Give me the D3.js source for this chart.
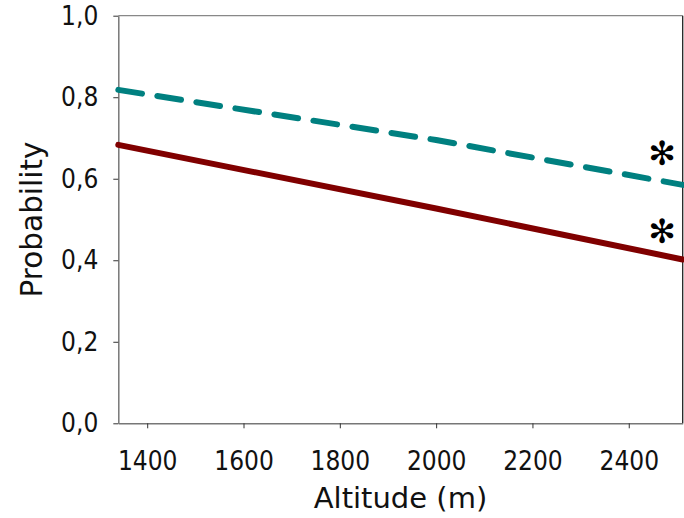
<!DOCTYPE html>
<html>
<head>
<meta charset="utf-8">
<script src="https://cdn.jsdelivr.net/npm/d3@7"></script>
<style>
  html, body { margin: 0; padding: 0; background: #fff; }
  svg { display: block; }
</style>
</head>
<body>
<div id="chart"></div>
<script>
// data
const altitudes = [1340, 2000, 2512];
const dashedSeries = [0.818, 0.695, 0.585];
const solidSeries = [0.683, 0.527, 0.402];
const xTicks = [1400, 1600, 1800, 2000, 2200, 2400];
const yTicks = [0, 0.2, 0.4, 0.6, 0.8, 1.0];
const markers = [
  { altitude: 2469, value: 0.662 },
  { altitude: 2469, value: 0.472 }
];

const width = 684;
const height = 518;
const margin = { top: 15.7, right: 1.3, bottom: 94.7, left: 118.3 };

const svg = d3.select('#chart')
  .append('svg')
  .attr('width', width)
  .attr('height', height);

const x = d3.scaleLinear()
  .domain([1340, 2512])
  .range([margin.left, width - margin.right]);

const y = d3.scaleLinear()
  .domain([0, 1])
  .range([height - margin.bottom, margin.top]);

const fmt = d => d.toFixed(1).replace('.', ',');

// frame: top and right
svg.append('line')
  .attr('x1', x.range()[0]).attr('x2', x.range()[1])
  .attr('y1', y(1)).attr('y2', y(1))
  .attr('stroke', '#888').attr('stroke-width', 1.3);
svg.append('line')
  .attr('x1', x.range()[1]).attr('x2', x.range()[1])
  .attr('y1', y(1)).attr('y2', y(0))
  .attr('stroke', '#222').attr('stroke-width', 1.3);

// axes
const xAxis = svg.append('g')
  .attr('transform', `translate(0,${y(0)})`)
  .call(d3.axisBottom(x).tickValues(xTicks).tickFormat(d3.format('d'))
    .tickSize(5).tickSizeOuter(0).tickPadding(23));

const yAxis = svg.append('g')
  .attr('transform', `translate(${x.range()[0]},0)`)
  .call(d3.axisLeft(y).tickValues(yTicks).tickFormat(fmt)
    .tickSize(5).tickSizeOuter(0).tickPadding(15));

[xAxis, yAxis].forEach(a => {
  a.select('.domain').attr('stroke', '#777').attr('stroke-width', 1.5);
  a.selectAll('.tick line').attr('stroke', '#333').attr('stroke-width', 1);
  a.selectAll('.tick text')
    .attr('fill', '#111')
    .style('font-family', '"DejaVu Sans Condensed", "DejaVu Sans", sans-serif')
    .style('font-size', '26px');
});

// lines
const line = d3.line()
  .x((d, i) => x(altitudes[i]))
  .y(d => y(d));

svg.append('path')
  .datum(solidSeries)
  .attr('d', line)
  .attr('fill', 'none')
  .attr('stroke', '#800000')
  .attr('stroke-width', 6)
  .attr('stroke-linecap', 'round');

svg.append('path')
  .datum(dashedSeries)
  .attr('d', line)
  .attr('fill', 'none')
  .attr('stroke', '#008080')
  .attr('stroke-width', 6)
  .attr('stroke-linecap', 'round')
  .attr('stroke-dasharray', '24,15.5');

// significance markers
svg.selectAll('.marker')
  .data(markers)
  .join('text')
  .attr('class', 'marker')
  .attr('x', d => x(d.altitude))
  .attr('y', d => y(d.value))
  .attr('dy', '0.36em')
  .attr('text-anchor', 'middle')
  .style('font-family', '"DejaVu Sans", sans-serif')
  .style('font-size', '33px')
  .attr('fill', '#000')
  .text('\u273B');

// axis titles
svg.append('text')
  .attr('x', (x.range()[0] + x.range()[1]) / 2)
  .attr('y', 508.3)
  .attr('text-anchor', 'middle')
  .style('font-family', '"DejaVu Sans", sans-serif')
  .style('font-size', '29px')
  .attr('fill', '#111')
  .text('Altitude (m)');

svg.append('text')
  .attr('transform', `translate(41.7,${(y(0) + y(1)) / 2}) rotate(-90)`)
  .attr('text-anchor', 'middle')
  .style('font-family', '"DejaVu Sans", sans-serif')
  .style('font-size', '29.5px')
  .attr('fill', '#111')
  .text('Probability');
</script>
</body>
</html>
